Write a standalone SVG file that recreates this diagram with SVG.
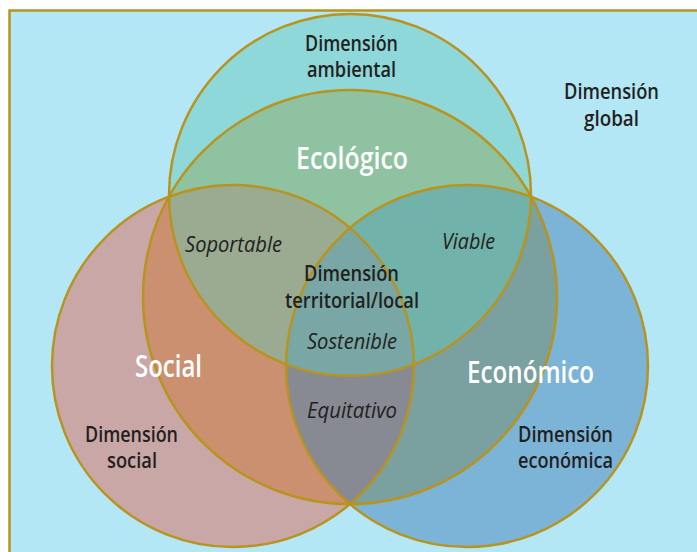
<svg xmlns="http://www.w3.org/2000/svg" width="697" height="552" viewBox="0 0 697 552">
<style>
.t{font-family:"Open Sans","Noto Sans","Liberation Sans",sans-serif;text-anchor:middle}
.dim{font-weight:600;font-size:22px;fill:#231f20}
.big{font-weight:600;font-size:30px;fill:#ffffff}
.it{font-style:italic;font-weight:400;font-size:22px;fill:#231f20}
.ol{fill:none;stroke:#b8941e;stroke-width:2.5}
</style>
<defs>
<clipPath id="cA"><circle cx="350" cy="195" r="181"/></clipPath>
<clipPath id="cS"><circle cx="233" cy="366" r="181"/></clipPath>
<clipPath id="cE"><circle cx="467" cy="366" r="181"/></clipPath>
<clipPath id="cC"><circle cx="350" cy="297" r="207"/></clipPath>
</defs>
<rect x="0" y="0" width="697" height="552" fill="#ffffff"/>
<rect x="9.5" y="10.5" width="700" height="560" fill="#b4e7f5" stroke="#b8941e" stroke-width="2.5"/>
<g id="fills">
<circle cx="350" cy="195" r="181" fill="#8ed8da"/>
<circle cx="233" cy="366" r="181" fill="#c9a7a7"/>
<circle cx="467" cy="366" r="181" fill="#7cb4d8"/>
<g clip-path="url(#cC)">
<circle cx="350" cy="195" r="181" fill="#8fc2a1"/>
<circle cx="233" cy="366" r="181" fill="#cb9070"/>
<circle cx="467" cy="366" r="181" fill="#7ba0a0"/>
<g clip-path="url(#cA)">
<circle cx="233" cy="366" r="181" fill="#9aab92"/>
<circle cx="467" cy="366" r="181" fill="#71b2ab"/>
</g>
<g clip-path="url(#cS)">
<circle cx="467" cy="366" r="181" fill="#878a93"/>
</g>
<g clip-path="url(#cA)"><g clip-path="url(#cS)">
<circle cx="467" cy="366" r="181" fill="#78a7a5"/>
</g></g>
</g>
</g>
<g id="dimension-ambiental">
<circle class="ol" cx="350" cy="195" r="181"/>
<text class="t dim" x="351.5" y="50.5" textLength="93" lengthAdjust="spacingAndGlyphs">Dimensión</text>
<text class="t dim" x="351.5" y="77.3" textLength="89" lengthAdjust="spacingAndGlyphs">ambiental</text>
</g>
<g id="dimension-social">
<circle class="ol" cx="233" cy="366" r="181"/>
<text class="t dim" x="131.5" y="441.7" textLength="93" lengthAdjust="spacingAndGlyphs">Dimensión</text>
<text class="t dim" x="132" y="468.3" textLength="50" lengthAdjust="spacingAndGlyphs">social</text>
</g>
<g id="dimension-economica">
<circle class="ol" cx="467" cy="366" r="181"/>
<text class="t dim" x="565.5" y="441.7" textLength="95" lengthAdjust="spacingAndGlyphs">Dimensión</text>
<text class="t dim" x="565.5" y="468.3" textLength="95" lengthAdjust="spacingAndGlyphs">económica</text>
</g>
<g id="dimension-territorial">
<circle class="ol" cx="350" cy="297" r="207"/>
<text class="t dim" x="351.5" y="280.7" textLength="95" lengthAdjust="spacingAndGlyphs">Dimensión</text>
<text class="t dim" x="352" y="308.3" textLength="134" lengthAdjust="spacingAndGlyphs">territorial/local</text>
</g>
<g id="dimension-global">
<text class="t dim" x="611.5" y="99" textLength="95" lengthAdjust="spacingAndGlyphs">Dimensión</text>
<text class="t dim" x="611.5" y="126" textLength="55" lengthAdjust="spacingAndGlyphs">global</text>
</g>
<g id="ecologico"><text class="t big" x="352" y="169.3" textLength="112" lengthAdjust="spacingAndGlyphs">Ecológico</text></g>
<g id="social"><text class="t big" x="168.5" y="377.3" textLength="67" lengthAdjust="spacingAndGlyphs">Social</text></g>
<g id="economico"><text class="t big" x="530.5" y="382.7" textLength="127" lengthAdjust="spacingAndGlyphs">Económico</text></g>
<g id="soportable"><text class="t it" x="233.5" y="251.5" textLength="97" lengthAdjust="spacingAndGlyphs">Soportable</text></g>
<g id="viable"><text class="t it" x="468.5" y="249" textLength="53" lengthAdjust="spacingAndGlyphs">Viable</text></g>
<g id="sostenible"><text class="t it" x="352" y="349.3" textLength="90" lengthAdjust="spacingAndGlyphs">Sostenible</text></g>
<g id="equitativo"><text class="t it" x="352" y="418" textLength="90" lengthAdjust="spacingAndGlyphs">Equitativo</text></g>
</svg>
